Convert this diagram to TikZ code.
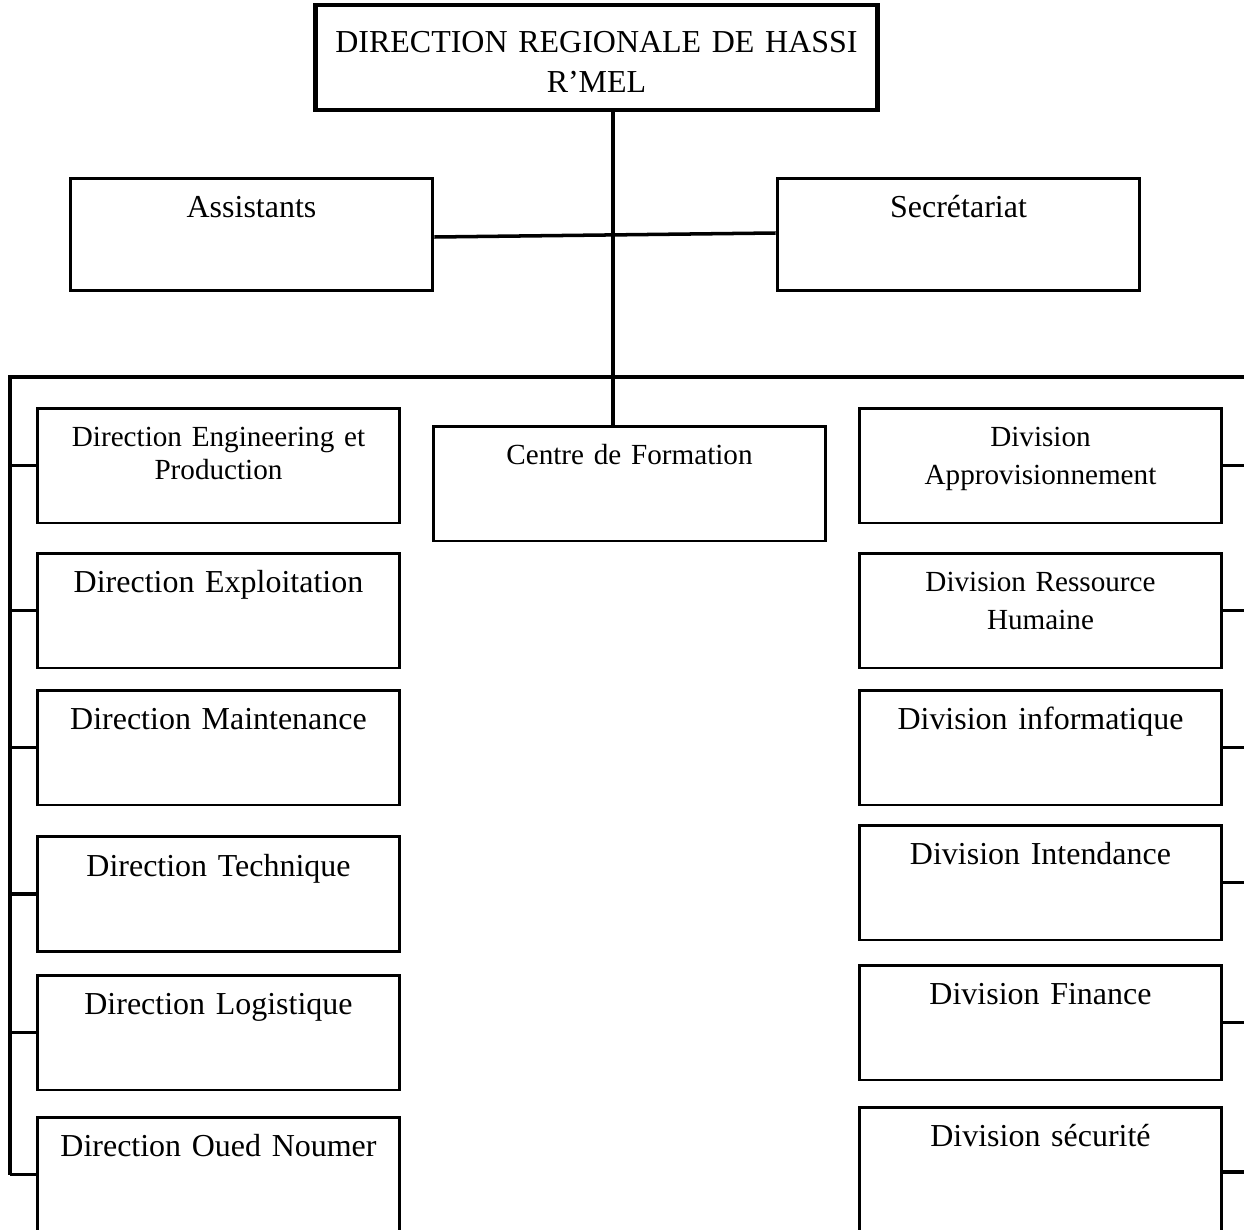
\documentclass[tikz,border=0pt]{standalone}
\usepackage{fontspec}
\setmainfont{Liberation Serif}
\usetikzlibrary{calc}
\tikzstyle{headnode}=[
    draw=black,        % black border
    line width=2.8pt,  % the head box has a heavy border
    rectangle,
    minimum width=11.26cm,
    minimum height=2.1cm]
\tikzstyle{unitnode}=[
    draw=black,        % black border
    line width=1.7pt,
    rectangle,         % the shape of the node is a rectangle
    minimum width=7.26cm,
    minimum height=2.3cm]
\tikzstyle{headtext}=[
    anchor=base, yshift=-1.0cm,
    text width=11cm, align=center,
    font=\fontsize{18.2}{22.8}\selectfont]
\tikzstyle{bigtext}=[
    anchor=base, yshift=-0.82cm,
    text width=7cm, align=center,
    font=\fontsize{18.2}{22}\selectfont]
\tikzstyle{smalltext}=[
    anchor=base, yshift=-0.8cm,
    text width=7cm, align=center,
    font=\fontsize{16.6}{18.5}\selectfont]
\tikzstyle{wire}=[line width=2pt]

\begin{document}
\begin{tikzpicture}[x=0.02cm, y=-0.02cm]
        \useasboundingbox (0,0) rectangle (1244,1230);

        % Draw the head and the staff
        \node[headnode, label={[headtext]north:{DIRECTION REGIONALE DE HASSI\\R’MEL}}] (drh) at (596.5,57.5) {};
        \node[unitnode, minimum height=2.26cm, label={[bigtext]north:Assistants}] (asst) at (251.5,234.5) {};
        \node[unitnode, minimum height=2.26cm, label={[bigtext]north:Secrétariat}] (secr) at (958.5,234.5) {};
        \node[unitnode, minimum width=7.86cm, label={[smalltext]north:Centre de Formation}] (cfor) at (629.5,483.5) {};

        % Left column: directions
        \node[unitnode, label={[smalltext]north:{Direction Engineering et\\Production}}] (deng) at (218.5,465.5) {};
        \node[unitnode, label={[bigtext]north:Direction Exploitation}] (dexp) at (218.5,610.5) {};
        \node[unitnode, label={[bigtext]north:Direction Maintenance}] (dmai) at (218.5,747.5) {};
        \node[unitnode, label={[bigtext]north:Direction Technique}] (dtec) at (218.5,894) {};
        \node[unitnode, label={[bigtext]north:Direction Logistique}] (dlog) at (218.5,1032.5) {};
        \node[unitnode, label={[bigtext]north:Direction Oued Noumer}] (doue) at (218.5,1174.5) {};

        % Right column: divisions
        \node[unitnode, label={[smalltext]north:{Division\\[3pt]Approvisionnement}}] (dapp) at (1040.5,465.5) {};
        \node[unitnode, label={[smalltext]north:{Division Ressource\\[3pt]Humaine}}] (drhu) at (1040.5,610.5) {};
        \node[unitnode, label={[bigtext]north:Division informatique}] (dinf) at (1040.5,747.5) {};
        \node[unitnode, label={[bigtext]north:Division Intendance}] (dint) at (1040.5,882.5) {};
        \node[unitnode, label={[bigtext]north:Division Finance}] (dfin) at (1040.5,1022.5) {};
        \node[unitnode, minimum height=2.6cm, label={[bigtext]north:Division sécurité}] (dsec) at (1040.5,1172) {};

        % Bus lines
        \coordinate (spine) at (613,377);
        \coordinate (lbus) at (10,377);
        \coordinate (rbus) at (1246,377);

        % Connect the boxes
        \draw[wire] (drh.south -| spine) -- (cfor.north -| spine);
        \draw[wire] ($(asst.east)+(0,2.5)$) -- ($(secr.west)+(0,-1.5)$);
        \draw[wire] (lbus |- doue.west) -- (lbus) -- (rbus) -- (rbus |- dsec.east);
        \foreach \n in {deng,dexp,dmai,dtec,dlog,doue}
            \draw[wire] (\n.west) -- (\n.west -| lbus);
        \foreach \n in {dapp,drhu,dinf,dint,dfin,dsec}
            \draw[wire] (\n.east) -- (\n.east -| rbus);
\end{tikzpicture}
\end{document}
